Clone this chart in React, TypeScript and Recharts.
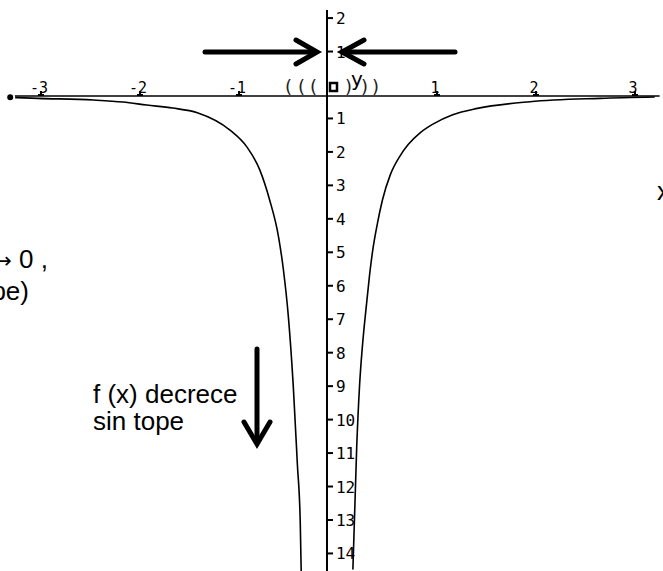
import { LineChart, Line, XAxis, YAxis, ReferenceLine, ReferenceDot } from "recharts";

// curve, left branch (x < 0) and right branch (x > 0)
const leftX = [-3.2, -2.92, -2.36, -2.06, -1.82, -1.56, -1.31, -0.98, -0.81, -0.68, -0.58, -0.49, -0.44, -0.39, -0.34, -0.3, -0.27, -0.26];
const leftY = [-0.04, -0.07, -0.12, -0.18, -0.27, -0.36, -0.5, -1.02, -1.52, -2.2, -3.1, -4.2, -5.2, -6.6, -8.7, -10.97, -12.76, -14.3];
const rightX = [0.26, 0.3, 0.33, 0.36, 0.4, 0.43, 0.46, 0.51, 0.56, 0.64, 0.74, 0.82, 0.94, 1.07, 1.27, 1.52, 2.05, 2.76, 3.31];
const rightY = [-14.3, -10.5, -8.6, -7.4, -6.2, -5.35, -4.65, -3.8, -3.11, -2.35, -1.78, -1.45, -1.1, -0.84, -0.56, -0.37, -0.17, -0.07, -0.03];

const xTicks = [-3, -2, -1, 1, 2, 3];
const yTicks = [2, 1, -1, -2, -3, -4, -5, -6, -7, -8, -9, -10, -11, -12, -13, -14];

const W = 663;
const H = 571;
const TICK_SHIFT = 11; // tick layer sits a little up/right of the drawn axes
const MONO = "'DejaVu Sans Mono', monospace";
const SANS = "'Liberation Sans', Arial, sans-serif";

const leftData = leftX.map((x, i) => ({ x, y: leftY[i] }));
const rightData = rightX.map((x, i) => ({ x, y: rightY[i] }));

function xTick(p: any, v: number) {
  const x = p.cx + TICK_SHIFT;
  const y = p.cy;
  return (
    <g>
      <line x1={x} x2={x} y1={y - 5} y2={y} stroke="#000" strokeWidth={2} />
      <line x1={x - 3} x2={x + 3} y1={y - 1} y2={y - 1} stroke="#000" strokeWidth={2} />
      <text x={x - 2} y={y - 3} textAnchor="middle" fontFamily={MONO} fontSize={15} fill="#000">
        {v}
      </text>
    </g>
  );
}

function yTick(p: any, v: number) {
  const x = p.cx;
  const y = p.cy - TICK_SHIFT;
  return (
    <g>
      <line x1={x} x2={x + 6} y1={y} y2={y} stroke="#000" strokeWidth={2} />
      <text x={x + 9} y={y + 6} fontFamily={MONO} fontSize={16} fill="#000">
        {Math.abs(v)}
      </text>
    </g>
  );
}

export default function App() {
  return (
    <div style={{ position: "absolute", left: 0, top: 0, width: W, height: H, background: "#fff", overflow: "hidden" }}>
      <LineChart width={W} height={H} margin={{ top: 0, right: 0, bottom: 0, left: 0 }}>
        <XAxis type="number" dataKey="x" domain={[-3.303, 3.394]} allowDataOverflow hide />
        <YAxis type="number" dataKey="y" domain={[-14.196, 2.869]} allowDataOverflow hide />

        {/* axes crossing at the origin */}
        <ReferenceLine segment={[{ x: -3.2, y: 0 }, { x: 3.36, y: 0 }]} stroke="#000" strokeWidth={1.5} />
        <ReferenceLine segment={[{ x: 0, y: 2.57 }, { x: 0, y: -14.196 }]} stroke="#000" strokeWidth={2} />

        {xTicks.map((v) => (
          <ReferenceDot key={"x" + v} x={v} y={0} r={0} shape={(p: any) => xTick(p, v)} />
        ))}
        {yTicks.map((v) => (
          <ReferenceDot key={"y" + v} x={0} y={v} r={0} shape={(p: any) => yTick(p, v)} />
        ))}

        <Line data={leftData} dataKey="y" type="monotone" stroke="#000" strokeWidth={1.6} dot={false} isAnimationActive={false} />
        <Line data={rightData} dataKey="y" type="monotone" stroke="#000" strokeWidth={1.6} dot={false} isAnimationActive={false} />
      </LineChart>

      {/* annotations */}
      <svg width={W} height={H} style={{ position: "absolute", left: 0, top: 0, pointerEvents: "none" }}>
        <g stroke="#000" strokeWidth={5} strokeLinecap="round" fill="none">
          <line x1={205} y1={52} x2={315} y2={52} />
          <polyline points="296,40 317,52 296,64" />
          <line x1={455} y1={52} x2={345} y2={52} />
          <polyline points="364,40 342,52 364,64" />
          <line x1={257} y1={349} x2={257} y2={442} />
          <polyline points="244,422 257,444 270,422" />
        </g>

        <g fontFamily="'DejaVu Sans', sans-serif" fontSize={18} fill="#222">
          <text x={285} y={93}>(</text>
          <text x={298} y={93}>(</text>
          <text x={310} y={93}>(</text>
          <text x={345} y={93}>)</text>
          <text x={361} y={93}>)</text>
          <text x={372} y={93}>)</text>
        </g>
        <rect x={330} y={83} width={7} height={8} fill="none" stroke="#000" strokeWidth={2.5} />
        <text x={351} y={86} fontFamily="'DejaVu Sans', sans-serif" fontSize={20} fill="#000">y</text>

        <g fontFamily={SANS} fontSize={26} fill="#000">
          <text x={93} y={403}>f (x) decrece</text>
          <text x={93} y={430}>sin tope</text>
          <text x={48} y={268} textAnchor="end">
            x <tspan fontFamily="'DejaVu Sans', sans-serif" fontSize={22}>→</tspan> 0 ,
          </text>
          <text x={29} y={300} textAnchor="end">(sin tope)</text>
          <text x={657} y={200}>x</text>
        </g>
      </svg>
    </div>
  );
}
